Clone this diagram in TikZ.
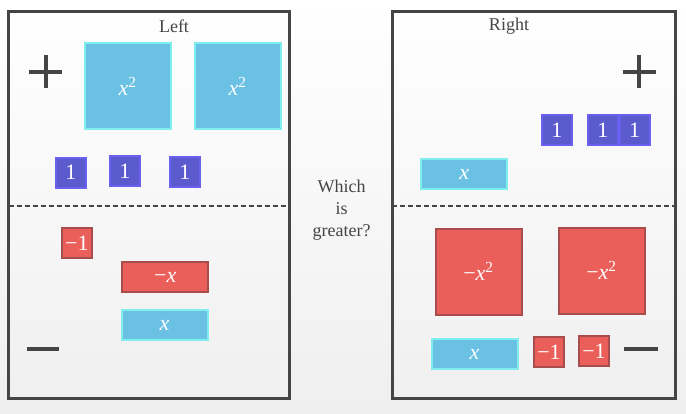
\documentclass[tikz,border=0pt]{standalone}
\usepackage{fontspec}
\setmainfont{Liberation Serif}

\definecolor{posfill}{HTML}{6BC1E3}
\definecolor{posedge}{HTML}{80EEEE}
\definecolor{unitfill}{HTML}{5B5BCE}
\definecolor{unitedge}{HTML}{6A60F0}
\definecolor{negfill}{HTML}{EB5F5B}
\definecolor{negedge}{HTML}{A84C4C}
\definecolor{ink}{HTML}{454545}
\definecolor{bggray}{HTML}{EFEFEF}

\tikzset{
  tile/.style={draw, line width=2pt, inner sep=0pt, text=white,
    font=\fontsize{22}{22}\selectfont},
  possq/.style={tile, fill=posfill, draw=posedge, minimum width=86pt, minimum height=86pt},
  posbar/.style={tile, fill=posfill, draw=posedge, minimum width=86pt, minimum height=30pt},
  negsq/.style={tile, fill=negfill, draw=negedge, minimum width=86pt, minimum height=86pt},
  negbar/.style={tile, fill=negfill, draw=negedge, minimum width=86pt, minimum height=30pt},
  unit/.style={tile, fill=unitfill, draw=unitedge, minimum width=30pt, minimum height=30pt},
  negunit/.style={tile, fill=negfill, draw=negedge, minimum width=30pt, minimum height=30pt},
  panel/.style={draw=ink, line width=3pt},
  divider/.style={draw=ink, line width=2pt, dash pattern=on 5pt off 3pt},
  sign/.style={draw=ink, line width=4pt},
  caption/.style={text=ink, inner sep=0pt, font=\fontsize{18}{22}\selectfont}
}

\def\xsq{{\itshape x}\textsuperscript{2}}
\def\nx{{\itshape x}}

\begin{document}
\begin{tikzpicture}[x=1pt, y=-1pt]

  \useasboundingbox (0,0) rectangle (686,413);
  \shade[top color=white, bottom color=bggray] (0,0) rectangle (686,413);

  % the two sides
  \draw[panel] (8.7,11.7) rectangle (289,398);
  \draw[panel] (392,11.7) rectangle (675,398);
  \draw[divider] (8.7,206) -- (289,206);
  \draw[divider] (392,206) -- (675,206);

  \node[caption] (leftname) at (174,26) {Left};
  \node[caption] (rightname) at (509,26) {Right};
  \node[caption, align=center] (question) at (341.7,210) {Which\\is\\greater?};

  % signs
  \draw[sign] (29,71.5) -- (62,71.5) (45.5,55) -- (45.5,88);
  \draw[sign] (622.5,71.5) -- (655.5,71.5) (639,55) -- (639,88);
  \draw[sign] (26.7,349) -- (59.3,349);
  \draw[sign] (624.3,349) -- (657.7,349);

  % left, positive
  \node[possq] (lsqa) at (127.5,86.3) {\xsq};
  \node[possq] (lsqb) at (237.5,86.3) {\xsq};
  \node[unit] (lonea) at (70.8,172.7) {1};
  \node[unit] (loneb) at (124.8,170.8) {1};
  \node[unit] (lonec) at (184.8,171.8) {1};

  % left, negative
  \node[negunit] (lnegone) at (76.8,243) {−1};
  \node[negbar] (lnegx) at (165.3,277) {−\nx};
  \node[posbar] (lx) at (164.5,325) {\nx};

  % right, positive
  \node[unit] (ronea) at (556.8,130) {1};
  \node[unit] (roneb) at (602.8,130) {1};
  \node[unit] (ronec) at (634.7,130) {1};
  \node[posbar] (rx) at (464.3,174) {\nx};

  % right, negative
  \node[negsq] (rnegsqa) at (478.5,271.5) {−\xsq};
  \node[negsq] (rnegsqb) at (601.5,270.5) {−\xsq};
  \node[posbar] (rxb) at (474.5,354) {\nx};
  \node[negunit] (rnegonea) at (549,352) {−1};
  \node[negunit] (rnegoneb) at (594,351) {−1};

\end{tikzpicture}
\end{document}
